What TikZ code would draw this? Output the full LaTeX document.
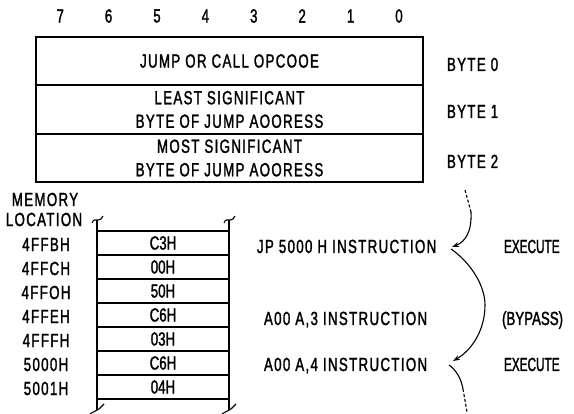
\documentclass[tikz,border=0pt]{standalone}
\usepackage{fontspec}
\setmainfont{Liberation Sans}[FakeStretch=0.7,LetterSpace=7,FakeBold=1.5]
\newfontfamily\tightfont{Liberation Sans}[FakeStretch=0.62,LetterSpace=0,FakeBold=1.5]
\newfontfamily\cellfont{Liberation Sans}[FakeStretch=0.7,LetterSpace=0,FakeBold=1.5]
\usetikzlibrary{arrows.meta}
\begin{document}
\begin{tikzpicture}[x=1pt,y=-1pt,
  every node/.style={inner sep=0pt,outer sep=0pt,font=\fontsize{19}{23.5}\selectfont},
  rowbox/.style={draw,line width=1.1pt,minimum width=387pt,anchor=north west,align=center},
  cell/.style={draw,line width=1.1pt,minimum width=132pt,minimum height=24pt,anchor=north west,font=\fontsize{19}{22}\selectfont\cellfont},
  lbl/.style={anchor=base west},
  tight/.style={font=\fontsize{19}{22}\selectfont\tightfont},
  mid/.style={font=\fontsize{19}{22}\selectfont\cellfont},
  wire/.style={line width=1.1pt},
  arr/.style={line width=1.1pt,-{Stealth[length=7pt,width=5pt]}},
  dots/.style={line width=1.1pt,dash pattern=on 3pt off 2pt}
]
\useasboundingbox (0,0) rectangle (574,414);

% bit numbers
\foreach \b [count=\i from 0] in {7,6,5,4,3,2,1,0}
  \node (bit\b) at ({60.2+48.4*\i},16) {\b};

% instruction format box
\node[rowbox,minimum height=48pt] (r0) at (36,37) {JUMP OR CALL OPCOOE};
\node[rowbox,minimum height=49pt] (r1) at (36,85) {LEAST SIGNIFICANT\\BYTE OF JUMP AOORESS};
\node[rowbox,minimum height=48pt] (r2) at (36,134) {MOST SIGNIFICANT\\BYTE OF JUMP AOORESS};

\node[lbl] (by0) at (447,71) {BYTE 0};
\node[lbl] (by1) at (447,118) {BYTE 1};
\node[lbl] (by2) at (447,168) {BYTE 2};

% memory
\node (mem) at (45,199.5) {MEMORY};
\node (loc) at (44,219.5) {LOCATION};

\foreach \a/\v [count=\i from 0] in {4FFBH/C3H,4FFCH/00H,4FFOH/50H,4FFEH/C6H,4FFFH/03H,5000H/C6H,5001H/04H}{
  \node[cell] (c\i) at (97,{231+24*\i}) {\v};
  \node (m\i) at (46,{244.5+24*\i}) {\a};
}

% side rails with break marks
\foreach \x in {97,229}{
  \draw[wire] (\x,220) -- (\x,410);
  \draw[wire] (\x-5,223) .. controls (\x-4,219) and (\x-1,220) .. (\x+1,220)
              .. controls (\x+3,220) and (\x+5,219) .. (\x+6,216);
  \draw[wire] (\x-7,414) .. controls (\x-3,411) and (\x,411) .. (\x+2,409)
              .. controls (\x+4,407) and (\x+5,406) .. (\x+7,404);
}

% instructions
\node[lbl] (i0) at (257,253) {JP 5000 H INSTRUCTION};
\node[lbl] (i1) at (264,325) {A00 A,3 INSTRUCTION};
\node[lbl] (i2) at (264,371) {A00 A,4 INSTRUCTION};

\node[lbl,tight] (e0) at (504,253) {EXECUTE};
\node[lbl,mid] (e1) at (502,325) {(BYPASS)};
\node[lbl,tight] (e2) at (504,371) {EXECUTE};

% flow arrows
\coordinate (t0) at (465,190);
\coordinate (t1) at (471,212);
\coordinate (v0) at (452,247);
\coordinate (v0b) at (451,249);
\coordinate (v1) at (453,361);
\coordinate (v1b) at (449,365);
\coordinate (u0) at (463,389);
\coordinate (u1) at (467,412);

\draw[dots] (t0) -- (t1);
\draw[arr] (t1) .. controls (472,232) and (465,242) .. (v0);
\draw[arr] (v0b) .. controls (470,262) and (485,285) .. (485,305)
                 .. controls (485,330) and (472,350) .. (v1);
\draw[wire] (v1b) .. controls (456,370) and (461,378) .. (u0);
\draw[dots] (u0) -- (u1);
\end{tikzpicture}
\end{document}
